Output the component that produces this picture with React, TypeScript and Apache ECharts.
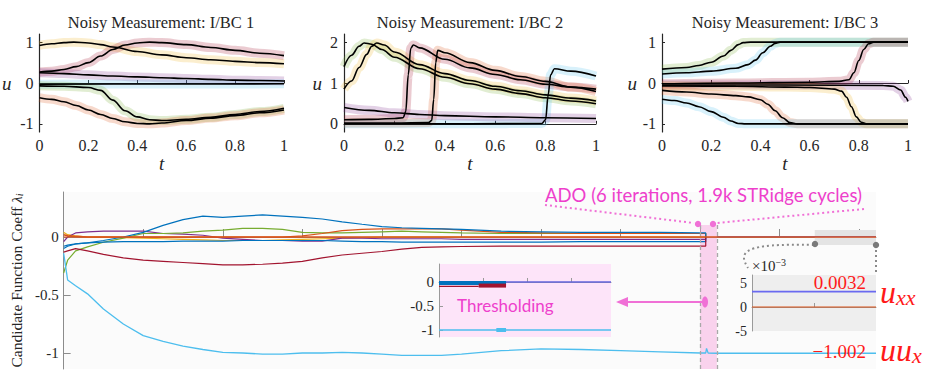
import React, { useEffect, useRef } from 'react';
import * as echarts from 'echarts';

// ---------- Top panels: noisy measurements (t, u) ----------
const p1Yellow = [[0,0.92],[0.05,0.96],[0.1,0.99],[0.14,1.0],[0.2,0.98],[0.25,0.94],[0.3,0.88],[0.4,0.77],[0.5,0.69],[0.6,0.62],[0.7,0.57],[0.8,0.53],[0.9,0.5],[1,0.47]];
const p1Red = [[0,0.27],[0.05,0.29],[0.1,0.33],[0.15,0.4],[0.2,0.5],[0.25,0.66],[0.3,0.82],[0.35,0.93],[0.4,0.98],[0.45,1.0],[0.5,0.99],[0.6,0.94],[0.7,0.87],[0.8,0.8],[0.9,0.73],[1,0.67]];
const p1Purple = [[0,0.25],[0.1,0.23],[0.2,0.2],[0.3,0.17],[0.4,0.15],[0.5,0.13],[0.6,0.11],[0.7,0.09],[0.8,0.07],[0.9,0.06],[1,0.05]];
const p1Blue = [[0,-0.03],[0.5,-0.025],[1,-0.02]];
const p1Green = [[0,-0.07],[0.1,-0.08],[0.2,-0.11],[0.25,-0.18],[0.3,-0.42],[0.35,-0.68],[0.4,-0.83],[0.45,-0.9],[0.5,-0.92],[0.6,-0.89],[0.7,-0.84],[0.8,-0.77],[0.9,-0.7],[1,-0.62]];
const p1Orange = [[0,-0.36],[0.05,-0.4],[0.1,-0.46],[0.15,-0.55],[0.2,-0.66],[0.25,-0.77],[0.3,-0.87],[0.35,-0.95],[0.4,-0.99],[0.45,-1.0],[0.5,-0.98],[0.6,-0.92],[0.7,-0.86],[0.8,-0.8],[0.9,-0.73],[1,-0.66]];

const p2Green = [[0,1.4],[0.03,1.68],[0.06,1.9],[0.08,1.98],[0.11,1.95],[0.15,1.82],[0.2,1.63],[0.3,1.35],[0.4,1.14],[0.5,0.98],[0.6,0.85],[0.7,0.74],[0.8,0.64],[0.9,0.56],[1,0.49]];
const p2Yellow = [[0,0.85],[0.03,1.05],[0.06,1.38],[0.09,1.7],[0.11,1.9],[0.13,1.98],[0.16,1.93],[0.2,1.76],[0.3,1.45],[0.4,1.23],[0.5,1.06],[0.6,0.92],[0.7,0.81],[0.8,0.71],[0.9,0.63],[1,0.56]];
const p2Red = [[0,0.1],[0.1,0.11],[0.2,0.13],[0.235,0.15],[0.245,0.3],[0.255,1.2],[0.265,1.85],[0.275,1.93],[0.3,1.86],[0.4,1.58],[0.5,1.37],[0.6,1.21],[0.7,1.08],[0.8,0.97],[0.9,0.9],[1,0.85]];
const p2Orange = [[0,0.02],[0.2,0.02],[0.335,0.03],[0.348,0.08],[0.356,0.6],[0.364,1.5],[0.372,1.8],[0.4,1.74],[0.5,1.5],[0.6,1.31],[0.7,1.16],[0.8,1.04],[0.9,0.9],[1,0.79]];
const p2Blue = [[0,0],[0.5,0],[0.785,0.01],[0.8,0.1],[0.81,0.7],[0.82,1.2],[0.835,1.35],[0.9,1.29],[1,1.17]];
const p2Purple = [[0,0.4],[0.1,0.33],[0.2,0.27],[0.3,0.23],[0.4,0.2],[0.6,0.17],[0.8,0.15],[1,0.13]];

const p3Green = [[0,0.34],[0.1,0.38],[0.15,0.43],[0.2,0.51],[0.25,0.66],[0.28,0.8],[0.31,0.94],[0.33,0.99],[0.36,1.0],[1,1.0]];
const p3LightBlue = [[0,0.22],[0.1,0.25],[0.2,0.29],[0.3,0.36],[0.35,0.45],[0.38,0.56],[0.41,0.74],[0.44,0.9],[0.46,0.97],[0.48,1.0],[1,1.0]];
const p3Red = [[0,-0.02],[0.3,0.0],[0.6,0.02],[0.72,0.04],[0.76,0.08],[0.78,0.25],[0.8,0.55],[0.82,0.82],[0.84,0.96],[0.86,1.0],[1,1.0]];
const p3Purple = [[0,-0.05],[0.5,-0.05],[0.9,-0.06],[0.94,-0.08],[0.97,-0.17],[0.99,-0.35],[1,-0.45]];
const p3Yellow = [[0,-0.07],[0.3,-0.08],[0.5,-0.1],[0.6,-0.11],[0.7,-0.15],[0.73,-0.2],[0.75,-0.35],[0.77,-0.58],[0.79,-0.83],[0.81,-0.96],[0.83,-1.0],[1,-1.0]];
const p3Orange = [[0,-0.18],[0.1,-0.22],[0.2,-0.27],[0.3,-0.31],[0.35,-0.34],[0.4,-0.41],[0.43,-0.52],[0.46,-0.68],[0.49,-0.85],[0.52,-0.97],[0.55,-1.0],[1,-1.0]];
const p3Blue = [[0,-0.4],[0.05,-0.43],[0.1,-0.49],[0.15,-0.58],[0.2,-0.7],[0.25,-0.84],[0.28,-0.93],[0.31,-0.99],[0.34,-1.0],[1,-1.0]];

const panelTitles = ['Noisy Measurement: I/BC 1', 'Noisy Measurement: I/BC 2', 'Noisy Measurement: I/BC 3'];
const tTicks = [0, 0.2, 0.4, 0.6, 0.8, 1];
const uTicks13 = [-1, 0, 1];
const uTicks2 = [0, 1, 2];

// ---------- Bottom panel: coefficient trajectories ----------
const iterX = [0,0.05,0.15,0.3,0.5,0.75,1,1.25,1.5,1.75,2,2.25,2.5,2.75,3,3.25,3.5,3.75,4,4.25,4.5,4.75,5,5.5,6,6.5,7,7.5,8];
const coefBlue = [-0.1,-0.08,-0.06,-0.05,-0.03,0,0.04,0.1,0.15,0.18,0.17,0.18,0.19,0.18,0.17,0.155,0.13,0.11,0.09,0.08,0.075,0.07,0.065,0.05,0.045,0.04,0.04,0.04,0.035];
const coefBlue2 = [-0.08,-0.07,-0.06,-0.05,-0.045,-0.04,-0.04,-0.04,-0.035,-0.035,-0.035,-0.03,-0.03,-0.03,-0.03,-0.03,-0.035,-0.04,-0.04,-0.045,-0.045,-0.045,-0.045,-0.045,-0.045,-0.04,-0.04,-0.04,-0.04];
const coefLightBlue = [-0.14,-0.37,-0.42,-0.49,-0.62,-0.75,-0.85,-0.9,-0.94,-0.97,-0.995,-1.0,-1.01,-1.01,-1.0,-1.0,-0.995,-1.0,-1.01,-1.02,-1.02,-1.02,-1.01,-0.98,-0.965,-0.97,-0.98,-0.99,-1.0];
const coefRed = [-0.13,-0.12,-0.1,-0.12,-0.15,-0.18,-0.2,-0.21,-0.22,-0.23,-0.24,-0.24,-0.235,-0.225,-0.21,-0.18,-0.155,-0.14,-0.125,-0.105,-0.09,-0.085,-0.082,-0.078,-0.078,-0.078,-0.078,-0.078,-0.078];
const coefGreen = [-0.31,-0.2,-0.12,-0.085,-0.045,-0.01,0.03,0.03,0.035,0.05,0.06,0.075,0.075,0.065,0.04,0.035,0.035,0.04,0.045,0.05,0.045,0.04,0.035,0.03,0.03,0.03,0.03,0.03,0.03];
const coefPurple = [-0.04,0,0.035,0.045,0.05,0.05,0.05,0.03,0.025,0.015,-0.01,-0.02,-0.03,-0.03,-0.035,-0.035,-0.01,-0.01,-0.015,-0.015,-0.015,-0.015,-0.02,-0.02,-0.02,-0.02,-0.02,-0.02,-0.02];
const coefYellow = [0.04,0.02,0.01,0,0,-0.005,-0.01,-0.015,-0.02,-0.025,-0.03,-0.03,-0.03,-0.025,-0.02,-0.015,-0.01,-0.005,0,0,0,0,0,0,0,0,0,0,0];
const coefOrange = [0.02,0.01,0.005,0,0,0,0,0,0,0,0,0,0,0,0,0,0,0,0,0,0,0,0,0,0,0,0,0,0];
const coefOrange2 = [0,0,0,0,0,0,0,0,0,0,0,0,0,0,0.01,0.03,0.055,0.065,0.07,0.07,0.07,0.07,0.06,0.04,0.035,0.03,0.03,0.03,0.03];
const adoSnap = [8.07, 0];
const lightBlueAdo = [[8.07,-1.0],[8.08,-0.96],[8.1,-1.0],[8.21,-1.002],[10.21,-1.002]];
const orangeTail = [[8.21,0],[10.21,0]];
const uxxTail = [[8.21,0.0032],[10.21,0.0032]];
const adoBand = [8.0, 8.21];
const zoomBox = [9.44, 10.21, -0.069, 0.06];
const mainTicks = [1,2,3,4,5,6,7,8,9,10];
const mainYTicks = [-1, -0.5, 0];

// ---------- Thresholding inset ----------
const thrBlueThick = [[0,-0.02],[1.52,-0.02]];
const thrRedThin = [[0,-0.09],[0.9,-0.09]];
const thrRedThick = [[0.9,-0.075],[1.52,-0.075]];
const thrPurple = [[0,0],[3.9,0]];
const thrLightBlue = [[0,-1],[3.9,-1]];
const thrLightBlueThick = [[1.3,-1],[1.52,-1]];
const thrXTicks = [1,2,3];
const thrYTicks = [-1,-0.5,0];

// ---------- Zoom inset (x1e-3) ----------
const zoomUxx = [[0,3.2],[2,3.2]];
const zoomZero = [[0,0],[2,0]];
const zoomYTicks = [-5,0,5];
const uxxValue = '0.0032';
const uuxValue = '\u22121.002';

const C = { blue:'#0072BD', orange:'#D95319', yellow:'#EDB120', purple:'#7E2F8E', green:'#77AC30', lblue:'#4DBEEE', red:'#A2142F' };
const SERIF = 'Liberation Serif';
const SANS = 'Lato';
const PINK = '#ee3fcc';
const INK = '#262626';

const pairs = (xs: number[], ys: number[]) => xs.map((x, i) => [x, ys[i]]);

function buildOption() {
  const topGrids = [
    { left: 38, top: 34, width: 246, height: 98 },
    { left: 344, top: 34, width: 252, height: 98 },
    { left: 662, top: 34, width: 246, height: 98 },
  ];
  const uNameGaps = [28, 22, 25];
  const grids: any[] = topGrids.map(g => ({ ...g }));
  grids.push({ left: 49, top: 192, width: 827, height: 177, show: true, backgroundColor: '#fbfbfb', borderWidth: 0 });
  grids.push({ left: 439, top: 264, width: 172, height: 73, show: true, backgroundColor: '#fde4f9', borderWidth: 0 });
  grids.push({ left: 752, top: 275, width: 124, height: 56, show: true, backgroundColor: '#eeeeee', borderWidth: 0 });

  const xAxes: any[] = [];
  const yAxes: any[] = [];
  for (let i = 0; i < 3; i++) {
    xAxes.push({
      type: 'value', gridIndex: i, min: 0, max: 1, interval: 0.2,
      splitLine: { show: false },
      axisLine: { lineStyle: { color: INK, width: 1.2 } },
      axisTick: { inside: true, length: 3, lineStyle: { color: INK }, customValues: tTicks },
      axisLabel: { color: INK, fontSize: 16, fontFamily: SERIF, margin: 5, customValues: tTicks },
      name: 't', nameLocation: 'middle', nameGap: 22,
      nameTextStyle: { fontFamily: SERIF, fontStyle: 'italic', fontSize: 19, color: INK },
    });
    const isU2 = i === 1;
    yAxes.push({
      type: 'value', gridIndex: i, min: isU2 ? -0.2 : -1.2, max: isU2 ? 2.2 : 1.2,
      splitLine: { show: false },
      axisLine: { show: true, lineStyle: { color: INK, width: 1.2 } },
      axisTick: { show: true, inside: true, length: 3, lineStyle: { color: INK }, customValues: isU2 ? uTicks2 : uTicks13 },
      axisLabel: { color: INK, fontSize: 16, fontFamily: SERIF, margin: 6, customValues: isU2 ? uTicks2 : uTicks13 },
      name: 'u', nameLocation: 'middle', nameGap: uNameGaps[i], nameRotate: 0,
      nameTextStyle: { fontFamily: SERIF, fontStyle: 'italic', fontSize: 19, color: INK },
    });
  }
  xAxes.push({
    type: 'value', gridIndex: 3, min: 0, max: 10.21,
    splitLine: { show: false },
    axisLine: { lineStyle: { color: '#8c8c8c', width: 1 } },
    axisTick: { inside: true, length: 8, lineStyle: { color: '#8c8c8c' }, customValues: mainTicks },
    axisLabel: { show: false },
  });
  yAxes.push({
    type: 'value', gridIndex: 3, min: -1.138, max: 0.388,
    splitLine: { show: false },
    axisLine: { show: true, lineStyle: { color: '#8c8c8c', width: 1 } },
    axisTick: { show: true, inside: true, length: 7, lineStyle: { color: '#8c8c8c' }, customValues: mainYTicks },
    axisLabel: { color: INK, fontSize: 15, fontFamily: SERIF, margin: 5, customValues: mainYTicks },
    name: '{a|Candidate Function Coeff }{b|\u03bb}{c|i}', nameLocation: 'middle', nameGap: 35, nameRotate: 90,
    nameTextStyle: {
      color: INK,
      rich: {
        a: { fontFamily: SERIF, fontSize: 15.5, color: INK },
        b: { fontFamily: SERIF, fontSize: 15.5, fontStyle: 'italic', color: INK },
        c: { fontFamily: SERIF, fontSize: 10, fontStyle: 'italic', color: INK, verticalAlign: 'bottom', padding: [6, 0, 0, 0] },
      },
    },
  });
  xAxes.push({
    type: 'value', gridIndex: 4, min: 0, max: 3.9,
    splitLine: { show: false },
    axisLine: { lineStyle: { color: '#9a9a9a' } },
    axisTick: { inside: true, length: 4, lineStyle: { color: '#9a9a9a' }, customValues: thrXTicks },
    axisLabel: { show: false },
  });
  yAxes.push({
    type: 'value', gridIndex: 4, min: -1.146, max: 0.375,
    splitLine: { show: false },
    axisLine: { show: true, lineStyle: { color: '#9a9a9a' } },
    axisTick: { show: true, inside: true, length: 4, lineStyle: { color: '#9a9a9a' }, customValues: thrYTicks },
    axisLabel: { color: INK, fontSize: 15, fontFamily: SERIF, margin: 5, customValues: thrYTicks },
  });
  xAxes.push({
    type: 'value', gridIndex: 5, min: 0, max: 2,
    splitLine: { show: false },
    axisLine: { lineStyle: { color: '#9a9a9a' } },
    axisTick: { inside: true, length: 4, lineStyle: { color: '#9a9a9a' }, customValues: [1] },
    axisLabel: { show: false },
  });
  yAxes.push({
    type: 'value', gridIndex: 5, min: -5, max: 6.67,
    splitLine: { show: false },
    axisLine: { show: true, lineStyle: { color: '#9a9a9a' } },
    axisTick: { show: false },
    axisLabel: { color: INK, fontSize: 14, fontFamily: SERIF, margin: 5, customValues: zoomYTicks },
  });

  const series: any[] = [];
  const panels: [number[][], string][][] = [
    [[p1Yellow, C.yellow], [p1Red, C.red], [p1Purple, C.purple], [p1Blue, C.lblue], [p1Green, C.green], [p1Orange, C.orange]],
    [[p2Green, C.green], [p2Yellow, C.yellow], [p2Red, C.red], [p2Orange, C.orange], [p2Blue, C.lblue], [p2Purple, C.purple]],
    [[p3Green, C.green], [p3LightBlue, C.lblue], [p3Red, C.red], [p3Purple, C.purple], [p3Yellow, C.yellow], [p3Orange, C.orange], [p3Blue, C.lblue]],
  ];
  panels.forEach((curves, pi) => {
    curves.forEach(([d, c]) => {
      series.push({ type: 'line', xAxisIndex: pi, yAxisIndex: pi, data: d, showSymbol: false, smooth: 0.35, smoothMonotone: 'x', silent: true, z: 1,
        lineStyle: { width: 9, color: c, opacity: 0.22, cap: 'butt' } });
    });
    curves.forEach(([d]) => {
      series.push({ type: 'line', xAxisIndex: pi, yAxisIndex: pi, data: d, showSymbol: false, smooth: 0.35, smoothMonotone: 'x', silent: true, z: 3,
        lineStyle: { width: 1.6, color: '#000' } });
    });
  });

  const mainDefs: [number[], string][] = [
    [coefYellow, C.yellow], [coefPurple, C.purple], [coefGreen, C.green], [coefBlue2, C.blue],
    [coefOrange2, C.orange], [coefRed, C.red], [coefBlue, C.blue],
  ];
  mainDefs.forEach(([ys, c]) => {
    const d = pairs(iterX, ys);
    d.push([adoSnap[0], ys[ys.length - 1]], [adoSnap[0], adoSnap[1]]);
    series.push({ type: 'line', xAxisIndex: 3, yAxisIndex: 3, data: d, showSymbol: false, silent: true, z: 3,
      lineStyle: { width: 1.2, color: c } });
  });
  series.push({ type: 'line', xAxisIndex: 3, yAxisIndex: 3, data: pairs(iterX, coefLightBlue).concat(lightBlueAdo), showSymbol: false, silent: true, z: 3,
    lineStyle: { width: 1.3, color: C.lblue } });
  series.push({ type: 'line', xAxisIndex: 3, yAxisIndex: 3, data: uxxTail, showSymbol: false, silent: true, z: 3,
    lineStyle: { width: 1.2, color: '#6a6af0' } });
  series.push({ type: 'line', xAxisIndex: 3, yAxisIndex: 3, data: pairs(iterX, coefOrange).concat(orangeTail), showSymbol: false, silent: true, z: 4,
    lineStyle: { width: 1.6, color: C.orange },
    markArea: { silent: true, data: [
      [{ xAxis: adoBand[0], yAxis: -1.138, itemStyle: { color: 'rgba(246,160,220,0.45)' } }, { xAxis: adoBand[1], yAxis: 0.103 }],
      [{ xAxis: zoomBox[0], yAxis: zoomBox[3], itemStyle: { color: '#e4e4e4' } }, { xAxis: zoomBox[1], yAxis: zoomBox[2] }],
    ] },
    markLine: { silent: true, symbol: 'none', label: { show: false }, lineStyle: { type: [4, 3], color: '#a8a8a8', width: 1.3 }, data: [
      [{ coord: [adoBand[0], -1.138] }, { coord: [adoBand[0], 0.103] }],
      [{ coord: [adoBand[1], -1.138] }, { coord: [adoBand[1], 0.103] }],
    ] },
  });

  const thr: [number[][], string, number][] = [
    [thrPurple, '#6464dc', 1.3], [thrRedThin, C.red, 1.2], [thrBlueThick, C.blue, 4], [thrRedThick, C.red, 4],
    [thrLightBlue, C.lblue, 1.5], [thrLightBlueThick, C.lblue, 4],
  ];
  thr.forEach(([d, c, w]) => series.push({ type: 'line', xAxisIndex: 4, yAxisIndex: 4, data: d, showSymbol: false, silent: true, z: 5, lineStyle: { width: w, color: c } }));
  series.push({ type: 'line', xAxisIndex: 5, yAxisIndex: 5, data: zoomZero, showSymbol: false, silent: true, z: 5, lineStyle: { width: 1.2, color: C.orange } });
  series.push({ type: 'line', xAxisIndex: 5, yAxisIndex: 5, data: zoomUxx, showSymbol: false, silent: true, z: 5, lineStyle: { width: 1.6, color: '#6a6af0' } });

  const centers = [161, 470, 785];
  const graphic: any[] = centers.map((cx, i) => ({
    type: 'text', x: cx, y: 22, z: 50,
    style: { text: panelTitles[i], align: 'center', verticalAlign: 'middle', fontFamily: SERIF, fontSize: 16.5, fill: INK },
  }));
  const sub = (fs: number) => ({ fontFamily: SERIF, fontStyle: 'italic', fontSize: fs, fill: '#ff1a1a', verticalAlign: 'bottom', padding: [10, 0, 0, 0] });
  graphic.push(
    { type: 'text', x: 545, y: 195, z: 50, style: { text: 'ADO (6 iterations, 1.9k STRidge cycles)', align: 'left', verticalAlign: 'middle', fontFamily: SANS, fontSize: 18.5, fill: PINK } },
    { type: 'polyline', z: 50, shape: { points: [[545, 205], [694, 223]] }, style: { stroke: '#f070d6', lineWidth: 2, lineDash: [2, 3], fill: null } },
    { type: 'polyline', z: 50, shape: { points: [[864, 209], [717, 223]] }, style: { stroke: '#f070d6', lineWidth: 2, lineDash: [2, 3], fill: null } },
    { type: 'circle', z: 51, shape: { cx: 698, cy: 224, r: 3.2 }, style: { fill: '#f070d6' } },
    { type: 'circle', z: 51, shape: { cx: 713, cy: 224, r: 3.2 }, style: { fill: '#f070d6' } },
    { type: 'polyline', z: 50, shape: { points: [[704, 302], [624, 302]] }, style: { stroke: '#f070d6', lineWidth: 2, fill: null } },
    { type: 'polygon', z: 50, shape: { points: [[616, 302], [628, 297], [628, 307]] }, style: { fill: '#f070d6' } },
    { type: 'ellipse', z: 51, shape: { cx: 705, cy: 302, rx: 3, ry: 5.5 }, style: { fill: '#f070d6' } },
    { type: 'text', x: 457, y: 305, z: 50, style: { text: 'Thresholding', align: 'left', verticalAlign: 'middle', fontFamily: SANS, fontSize: 17, fill: PINK } },
    { type: 'bezierCurve', z: 50, shape: { x1: 814, y1: 245, cpx1: 742, cpy1: 243, cpx2: 738, cpy2: 252, x2: 748, y2: 268 }, style: { stroke: '#8a8a8a', lineWidth: 2, lineDash: [2, 3], fill: null } },
    { type: 'polyline', z: 50, shape: { points: [[876, 245], [876, 273]] }, style: { stroke: '#8a8a8a', lineWidth: 2, lineDash: [2, 3], fill: null } },
    { type: 'circle', z: 51, shape: { cx: 815, cy: 244, r: 3.2 }, style: { fill: '#7a7a7a' } },
    { type: 'circle', z: 51, shape: { cx: 876, cy: 245, r: 3.2 }, style: { fill: '#7a7a7a' } },
    { type: 'text', x: 752, y: 266, z: 50, style: { text: '{a|\u00d710}{b|\u22123}', align: 'left', verticalAlign: 'middle', fill: INK,
      rich: { a: { fontFamily: SERIF, fontSize: 15, fill: INK }, b: { fontFamily: SERIF, fontSize: 10, fill: INK, verticalAlign: 'top', padding: [0, 0, 8, 0] } } } },
    { type: 'text', x: 866, y: 282, z: 50, style: { text: uxxValue, align: 'right', verticalAlign: 'middle', fontFamily: SERIF, fontSize: 19, fill: '#ff1a1a' } },
    { type: 'text', x: 866, y: 351, z: 50, style: { text: uuxValue, align: 'right', verticalAlign: 'middle', fontFamily: SERIF, fontSize: 19, fill: '#ff1a1a' } },
    { type: 'text', x: 880, y: 292, z: 50, style: { text: '{a|u}{b|xx}', align: 'left', verticalAlign: 'middle', fill: '#ff1a1a',
      rich: { a: { fontFamily: SERIF, fontStyle: 'italic', fontSize: 32, fill: '#ff1a1a' }, b: sub(22) } } },
    { type: 'text', x: 880, y: 350, z: 50, style: { text: '{a|uu}{b|x}', align: 'left', verticalAlign: 'middle', fill: '#ff1a1a',
      rich: { a: { fontFamily: SERIF, fontStyle: 'italic', fontSize: 32, fill: '#ff1a1a' }, b: sub(22) } } },
  );

  return { animation: false, backgroundColor: '#ffffff', grid: grids, xAxis: xAxes, yAxis: yAxes, series, graphic };
}

export default function App() {
  const ref = useRef<HTMLDivElement>(null);
  useEffect(() => {
    const chart = echarts.init(ref.current!, null, { renderer: 'svg' });
    chart.setOption(buildOption() as any);
    return () => chart.dispose();
  }, []);
  return <div ref={ref} style={{ position: 'absolute', left: 0, top: 0, width: 940, height: 382, background: '#fff' }} />;
}
